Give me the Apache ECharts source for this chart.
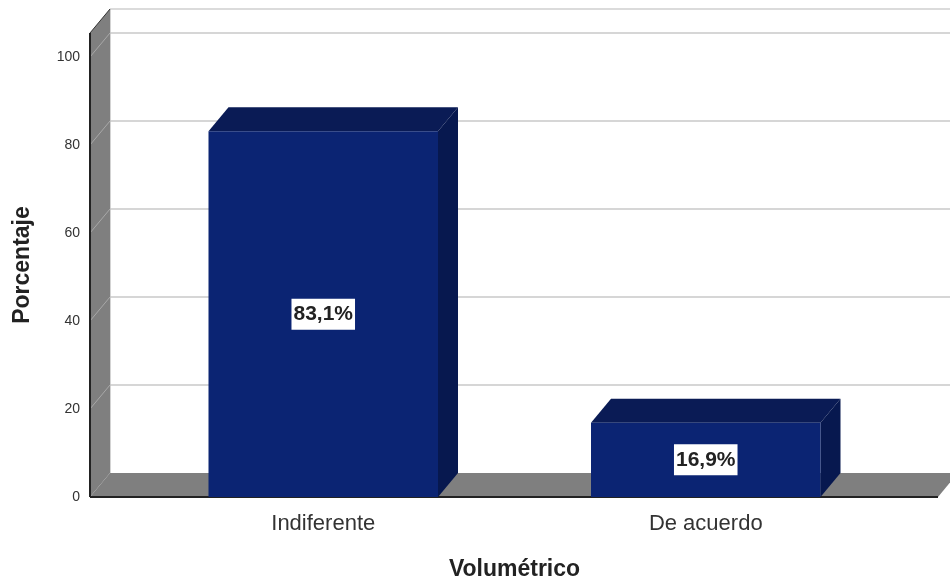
<!DOCTYPE html>
<html><head><meta charset="utf-8">
<style>html,body{margin:0;padding:0;background:#fff}#c{width:950px;height:581px}</style>
<script src="https://cdn.jsdelivr.net/npm/echarts@6/dist/echarts.min.js"></script>
</head><body><div id="c"></div>
<script>
var categories = ['Indiferente', 'De acuerdo'];
var percentages = [83.1, 16.9];
var yTicks = [0, 20, 40, 60, 80, 100];
var yMax = 105.4545;
var xTitle = 'Volumétrico';
var yTitle = 'Porcentaje';

var DX = 20, DY = 24, LEFT_EXT = 42, RIGHT_EXT = 41;
var FONT = '"Liberation Sans", Arial, sans-serif';
var chart = echarts.init(document.getElementById('c'));

function poly(points, fill, z) {
  return { type: 'polygon', z2: z || 0, shape: { points: points }, style: { fill: fill } };
}
function seg(x1, y1, x2, y2, color, w, z) {
  return { type: 'line', z2: z || 1, shape: { x1: x1, y1: y1, x2: x2, y2: y2 }, style: { stroke: color, lineWidth: w } };
}

function renderFrame(params, api) {
  var r = params.coordSys;
  var x0 = r.x - LEFT_EXT, x1 = r.x + r.width + RIGHT_EXT;
  var y0 = api.coord([0, 0])[1], yt = r.y;
  var ch = [];
  ch.push(seg(x0 + DX, yt - DY, x1 + DX, yt - DY, '#cfcfcf', 1.5));
  yTicks.forEach(function (t) {
    var y = api.coord([0, t])[1];
    if (t > 0) ch.push(seg(x0 + DX, y - DY, x1 + DX, y - DY, '#c8c8c8', 1.5));
  });
  ch.push(seg(x0 + DX, yt - DY, x0 + DX, y0 - DY, '#c4c4c4', 1.5));
  ch.push(poly([[x0, yt], [x0 + DX, yt - DY], [x0 + DX, y0 - DY], [x0, y0]], '#7f7f7f', 2));
  ch.push(poly([[x0, y0], [x0 + DX, y0 - DY], [x1 + DX, y0 - DY], [x1, y0]], '#7f7f7f', 2));
  yTicks.forEach(function (t) {
    var y = api.coord([0, t])[1];
    if (t > 0) ch.push(seg(x0, y, x0 + DX, y - DY, '#a8a8a8', 1, 3));
  });
  ch.push(seg(x0, yt, x0, y0, '#222222', 2, 3));
  ch.push(seg(x0, y0, x1, y0, '#222222', 2, 3));
  ch.push(seg(x0, yt, x0 + DX, yt - DY, '#333333', 1, 3));
  return { type: 'group', children: ch };
}

function renderBar(params, api) {
  var c = api.value(0), v = api.value(1);
  var top = api.coord([c, v]), base = api.coord([c, 0]);
  var w = api.size([1, 0])[0] * 0.6;
  var l = top[0] - w / 2, rr = top[0] + w / 2, t = top[1], b = base[1];
  var text = v.toFixed(1).replace('.', ',') + '%';
  return { type: 'group', children: [
    poly([[l, t], [l + DX, t - DY], [rr + DX, t - DY], [rr, t]], '#0a1b55'),
    poly([[rr, t], [rr + DX, t - DY], [rr + DX, b - DY], [rr, b]], '#07184f'),
    poly([[l, t], [rr, t], [rr, b], [l, b]], '#0b2473', 1),
    { type: 'text', z2: 5, x: top[0], y: (t + b) / 2,
      style: { text: text, fill: '#222', font: 'bold 21px ' + FONT, align: 'center', verticalAlign: 'middle',
        backgroundColor: '#ffffff', padding: [5, 2, 5, 2] } }
  ] };
}

chart.setOption({
  animation: false,
  backgroundColor: '#ffffff',
  grid: { left: 132, top: 33, width: 765, height: 464, outerBoundsMode: 'none' },
  xAxis: { type: 'category', data: categories,
    axisLine: { show: false }, axisTick: { show: false }, splitLine: { show: false },
    axisLabel: { color: '#333', fontFamily: FONT, fontSize: 22, margin: 16 },
    name: xTitle, nameLocation: 'middle', nameGap: 61,
    nameTextStyle: { color: '#222', fontFamily: FONT, fontSize: 23, fontWeight: 'bold' } },
  yAxis: { type: 'value', min: 0, max: yMax, interval: 20, offset: LEFT_EXT,
    axisLine: { show: false }, axisTick: { show: false }, splitLine: { show: false },
    axisLabel: { color: '#333', fontFamily: FONT, fontSize: 14, margin: 10, showMaxLabel: false,
      formatter: function (v) { return yTicks.indexOf(v) >= 0 ? String(v) : ''; } },
    name: yTitle, nameLocation: 'middle', nameGap: 56,
    nameTextStyle: { color: '#222', fontFamily: FONT, fontSize: 23, fontWeight: 'bold' } },
  series: [
    { type: 'custom', z: 1, silent: true, clip: false, renderItem: renderFrame, data: [[0, 0]], encode: { x: 0, y: 1 } },
    { type: 'custom', z: 2, silent: true, clip: false, renderItem: renderBar,
      data: percentages.map(function (v, i) { return [i, v]; }), encode: { x: 0, y: 1 } }
  ]
});
</script></body></html>
